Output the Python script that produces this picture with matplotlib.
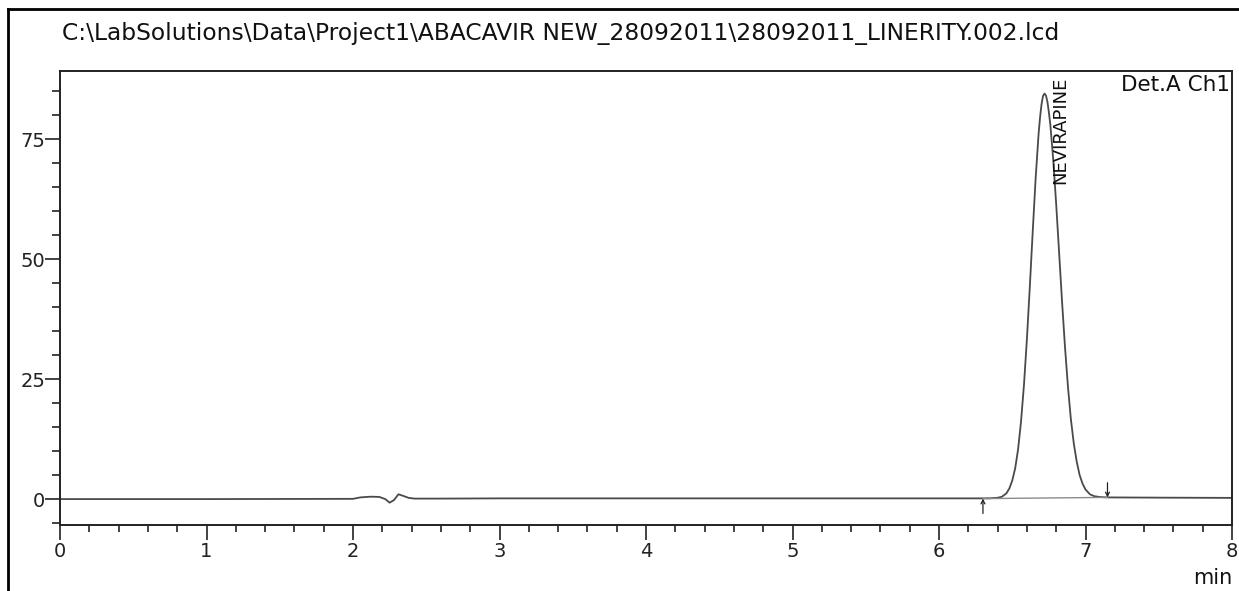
import numpy as np
import matplotlib.pyplot as plt
from matplotlib.lines import Line2D
from matplotlib.ticker import MultipleLocator

plt.rcParams['font.family'] = ['DejaVu Sans']

title = r"C:\LabSolutions\Data\Project1\ABACAVIR NEW_28092011\28092011_LINERITY.002.lcd"
channel = "Det.A Ch1"
peak_name = "NEVIRAPINE"
peak_rt = 6.83   # where the label sits
peak_start = 6.30
peak_end = 7.15
base_start = 0.1
base_end = 0.35

# retention time (min) and detector signal
rt_min = [0.0, 1.0, 2.0, 2.05, 2.12, 2.18, 2.22, 2.25, 2.28, 2.31, 2.34, 2.38,
          2.42, 2.6, 3.0, 4.0, 5.0, 6.0, 6.30, 6.35, 6.40, 6.43, 6.46, 6.48,
          6.50, 6.52, 6.54, 6.56, 6.58, 6.60, 6.62, 6.64, 6.66, 6.68, 6.69,
          6.70, 6.71, 6.72, 6.73, 6.74, 6.75, 6.76, 6.78, 6.80, 6.82, 6.84,
          6.86, 6.88, 6.90, 6.92, 6.94, 6.96, 6.98, 7.00, 7.03, 7.06, 7.10,
          7.15, 7.5, 8.0]
signal = [0.0, 0.0, 0.05, 0.35, 0.5, 0.45, 0.0, -0.75, -0.2, 1.0, 0.7, 0.25,
          0.1, 0.1, 0.15, 0.15, 0.15, 0.15, 0.15, 0.17, 0.27, 0.5, 1.2, 2.2,
          3.85, 6.4, 10.4, 16.2, 23.8, 33.3, 44.3, 55.9, 67.0, 76.2, 79.6,
          82.3, 84.0, 84.5, 84.1, 82.8, 80.6, 78.0, 70.6, 61.4, 51.3, 41.1,
          31.7, 23.5, 16.7, 11.6, 7.8, 5.0, 3.2, 2.0, 1.0, 0.6, 0.42,
          0.35, 0.3, 0.25]

fig = plt.figure(figsize=(12.39, 5.91), dpi=100)
ax = fig.add_axes([60 / 1239, 1 - 525 / 591, 1172 / 1239, 454 / 591])

ax.plot(rt_min, signal, color='#4a4a4a', lw=1.3, solid_joinstyle='round')
ax.plot([peak_start, peak_end], [base_start, base_end], color='#8a8a8a', lw=1.0)

# peak start / end marks
ax.annotate('', xy=(peak_start, base_start), xytext=(peak_start, -3.0),
            arrowprops=dict(arrowstyle='->', color='#222222', lw=0.9,
                            shrinkA=0, shrinkB=0, mutation_scale=7))
ax.annotate('', xy=(peak_end, base_end), xytext=(peak_end, 3.4),
            arrowprops=dict(arrowstyle='->', color='#222222', lw=0.9,
                            shrinkA=0, shrinkB=0, mutation_scale=7))

ax.text(peak_rt, 88.0, peak_name, rotation=90, ha='center', va='top',
        fontsize=13, color='#111111')

ax.set_xlim(0, 8)
ax.set_ylim(-5.4, 89.2)
ax.xaxis.set_major_locator(MultipleLocator(1))
ax.xaxis.set_minor_locator(MultipleLocator(0.2))
ax.yaxis.set_major_locator(MultipleLocator(25))
ax.yaxis.set_minor_locator(MultipleLocator(5))
ax.tick_params(axis='x', which='major', direction='out', length=10.8, width=1.2,
               pad=1.5, labelsize=14, colors='#222222')
ax.tick_params(axis='x', which='minor', direction='out', length=5, width=1.2,
               colors='#222222')
ax.tick_params(axis='y', which='major', direction='out', length=10.8, width=1.2,
               pad=0, labelsize=14, colors='#222222')
ax.tick_params(axis='y', which='minor', direction='out', length=5.8, width=1.2,
               colors='#222222')
for s in ax.spines.values():
    s.set_linewidth(1.4)
    s.set_color('#222222')

fig.text(62 / 1239, 1 - 40 / 591, title, ha='left', va='baseline',
         fontsize=16.8, color='#111111')
fig.text(1230 / 1239, 1 - 91 / 591, channel, ha='right', va='baseline',
         fontsize=15.5, color='#111111')
fig.text(1232 / 1239, 1 - 584 / 591, 'min', ha='right', va='baseline',
         fontsize=15, color='#111111')

# outer report frame (left and top edges)
fig.add_artist(Line2D([8 / 1239, 8 / 1239], [0, 1 - 9 / 591],
                      transform=fig.transFigure, color='black', lw=2))
fig.add_artist(Line2D([8 / 1239, 1], [1 - 9 / 591, 1 - 9 / 591],
                      transform=fig.transFigure, color='black', lw=2))

fig.savefig('out.png', dpi=100)
